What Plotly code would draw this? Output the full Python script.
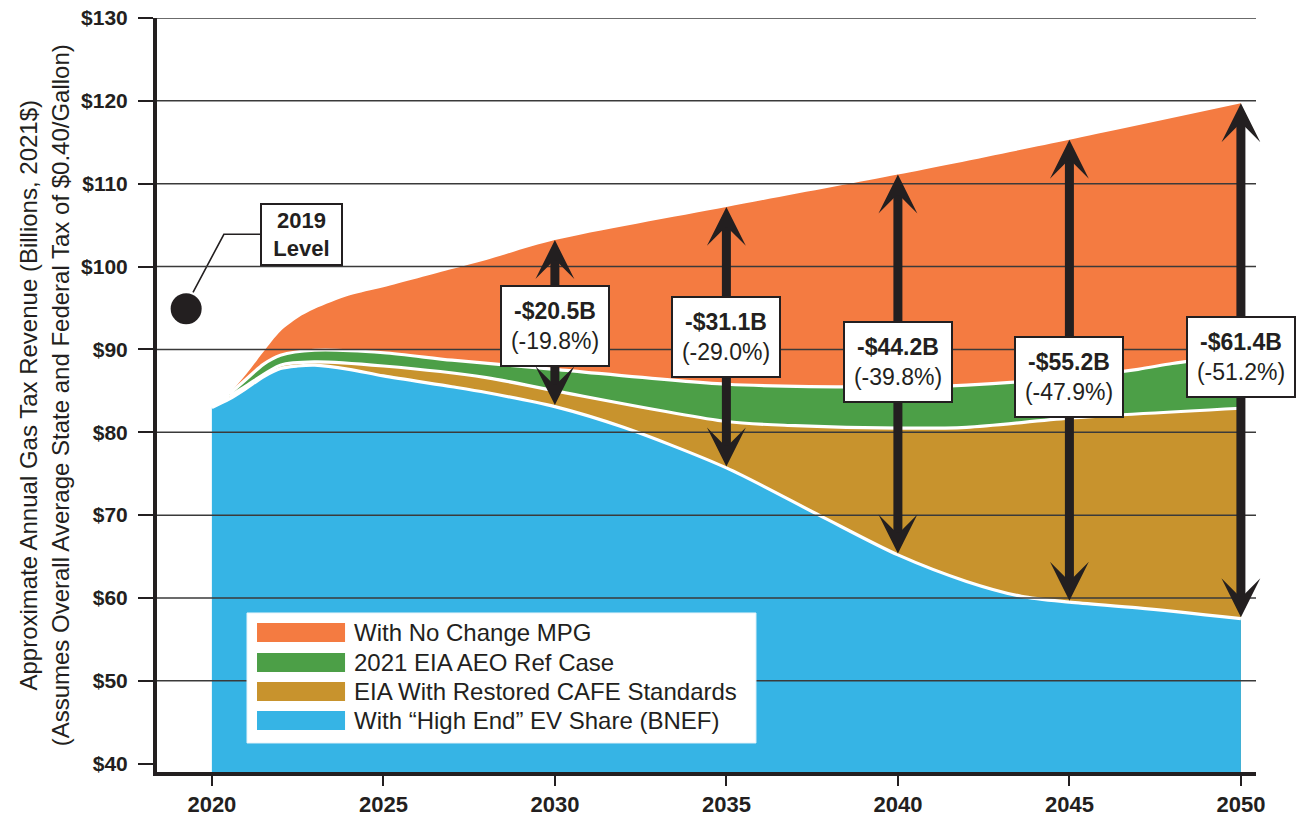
import plotly.graph_objects as go

# ---------------- data ----------------
x_ticks = [2020, 2025, 2030, 2035, 2040, 2045, 2050]
y_ticks = [40, 50, 60, 70, 80, 90, 100, 110, 120, 130]
y_tick_labels = ["$40", "$50", "$60", "$70", "$80", "$90", "$100", "$110", "$120", "$130"]

series_names = [
    "With No Change MPG",
    "2021 EIA AEO Ref Case",
    "EIA With Restored CAFE Standards",
    "With \u201cHigh End\u201d EV Share (BNEF)",
]
series_colors = ["#F47B41", "#4C9F47", "#C8932D", "#36B4E5"]

years_no_change = [2020.5, 2021, 2021.5, 2022, 2022.5, 2023, 2024, 2025, 2027, 2028, 2030, 2035, 2040, 2045, 2050]
rev_no_change = [84.6, 87.0, 89.7, 92.2, 93.8, 94.9, 96.5, 97.5, 99.7, 100.8, 103.2, 107.2, 111.1, 115.3, 119.7]

years_aeo = [2020.5, 2021, 2021.5, 2022, 2023, 2025, 2027, 2030, 2035, 2040, 2042, 2045, 2047, 2048, 2050]
rev_aeo = [84.6, 86.4, 88.2, 89.3, 89.9, 89.6, 88.7, 87.6, 85.8, 85.5, 85.7, 86.6, 87.6, 88.3, 89.4]

years_cafe = [2020.5, 2021, 2022, 2023, 2025, 2028, 2030, 2035, 2037, 2040, 2042, 2045, 2050]
rev_cafe = [84.3, 85.6, 88.1, 88.5, 88.0, 86.6, 85.0, 81.3, 80.8, 80.5, 80.6, 81.7, 82.9]

years_ev = [2020, 2020.5, 2021, 2021.5, 2022, 2022.5, 2023, 2024, 2025, 2027, 2028, 2030, 2032, 2035, 2037.7, 2040, 2042, 2043.6, 2045, 2047, 2050]
rev_ev = [83.0, 84.0, 85.3, 86.7, 87.7, 88.0, 88.1, 87.6, 86.8, 85.5, 84.8, 83.1, 80.6, 75.7, 70.0, 65.2, 62.0, 60.2, 59.5, 58.8, 57.5]

gap_years = [2030, 2035, 2040, 2045, 2050]
gap_labels = ["-$20.5B", "-$31.1B", "-$44.2B", "-$55.2B", "-$61.4B"]
gap_pct_labels = ["(-19.8%)", "(-29.0%)", "(-39.8%)", "(-47.9%)", "(-51.2%)"]

level_2019_year = 2019.25
level_2019_value = 94.9

# ---------------- layout constants ----------------
INK = "#231F20"
GRID = "#3A3A3A"
FONT = "Liberation Sans, Arial, sans-serif"
NARROW = "Liberation Sans Narrow, Arial Narrow, Liberation Sans, Arial, sans-serif"
gap_box_y = [92.8, 91.5, 88.5, 86.7, 89.1]

fig = go.Figure()

series = [
    (years_no_change, rev_no_change),
    (years_aeo, rev_aeo),
    (years_cafe, rev_cafe),
    (years_ev, rev_ev),
]
for i, ((xs, ys), name, col) in enumerate(zip(series, series_names, series_colors)):
    fig.add_trace(go.Scatter(
        x=xs, y=ys, name=name, mode="lines",
        line=dict(color=col if i == 0 else "white", width=0 if i == 0 else 3.2,
                  shape="spline", smoothing=0.8),
        fill="tozeroy", fillcolor=col, hoverinfo="skip",
    ))

# 2019 level marker with leader line
fig.add_trace(go.Scatter(
    x=[level_2019_year], y=[level_2019_value], mode="markers",
    marker=dict(size=31, color=INK), hoverinfo="skip",
))
fig.add_trace(go.Scatter(
    x=[2019.45, 2020.35, 2021.5], y=[96.9, 103.9, 103.9], mode="lines",
    line=dict(color=INK, width=1.6), hoverinfo="skip",
))

shapes = []
# gridlines above the areas
for v in y_ticks[1:]:
    shapes.append(dict(type="line", xref="paper", yref="y", x0=0, x1=1, y0=v, y1=v,
                       line=dict(color=GRID, width=1.5), layer="above"))

# custom legend
shapes.append(dict(type="rect", xref="paper", yref="paper", x0=0.0819, x1=0.5450,
                   y0=0.0385, y1=0.2109, fillcolor="white",
                   line=dict(color="#E6F3FA", width=1), layer="above"))
legend_rows = [0.1850, 0.1452, 0.1068, 0.0683]
annotations = []
for name, col, yc in zip(series_names, series_colors, legend_rows):
    shapes.append(dict(type="rect", xref="paper", yref="paper", x0=0.0910, x1=0.1711,
                       y0=yc - 0.0126, y1=yc + 0.0126, fillcolor=col,
                       line=dict(width=0), layer="above"))
    annotations.append(dict(xref="paper", yref="paper", x=0.1775, y=yc, text=name,
                            xanchor="left", yanchor="middle", showarrow=False,
                            font=dict(family=FONT, size=24, color=INK)))

# double-headed arrows + value boxes
lookup_top = dict(zip(years_no_change, rev_no_change))
lookup_bot = dict(zip(years_ev, rev_ev))
for yr, lab, pct, by in zip(gap_years, gap_labels, gap_pct_labels, gap_box_y):
    annotations.append(dict(
        x=yr, y=lookup_top[yr], ax=yr, ay=lookup_bot[yr],
        xref="x", yref="y", axref="x", ayref="y", text="",
        showarrow=True, arrowhead=3, startarrowhead=3, arrowside="end+start",
        arrowwidth=9, arrowsize=0.72, startarrowsize=0.72, arrowcolor=INK,
        standoff=0, startstandoff=0,
    ))
    annotations.append(dict(
        x=yr, y=by, xref="x", yref="y", showarrow=False,
        text=f"<b>{lab}</b><br>{pct}", align="center",
        font=dict(family=FONT, size=23, color=INK),
        bgcolor="white", bordercolor=INK, borderwidth=2,
        width=104, height=76, xanchor="center", yanchor="middle",
    ))

# 2019 Level box
annotations.append(dict(
    x=2022.62, y=103.9, xref="x", yref="y", showarrow=False,
    text="<b>2019<br>Level</b>", align="center",
    font=dict(family=FONT, size=22, color=INK),
    bgcolor="white", bordercolor=INK, borderwidth=2,
    width=77, height=57, xanchor="center", yanchor="middle",
))

# y-axis title (two lines, rotated)
annotations.append(dict(
    xref="paper", yref="paper", x=-0.1025, y=0.5, textangle=-90,
    text="Approximate Annual Gas Tax Revenue (Billions, 2021$)<br>"
         "(Assumes Overall Average State and Federal Tax of $0.40/Gallon)",
    showarrow=False, xanchor="center", yanchor="middle",
    font=dict(family=FONT, size=24, color=INK),
))

fig.update_layout(
    width=1306, height=817,
    margin=dict(l=157, r=50, t=18, b=45, autoexpand=False),
    paper_bgcolor="white", plot_bgcolor="white",
    showlegend=False,
    shapes=shapes, annotations=annotations,
    xaxis=dict(
        range=[2018.4, 2050.44], tickvals=x_ticks, ticktext=[str(t) for t in x_ticks],
        showgrid=False, zeroline=False, showline=True, linewidth=4, linecolor=INK,
        ticks="outside", ticklen=10, tickwidth=1.5, tickcolor=INK, automargin=False,
        tickfont=dict(family=NARROW, size=22, color=INK, weight="bold"),
        ticklabelstandoff=0, ticklabeloverflow="allow",
    ),
    yaxis=dict(
        range=[39, 130], tickvals=y_ticks, ticktext=y_tick_labels,
        showgrid=False, zeroline=False, showline=True, linewidth=4, linecolor=INK,
        ticks="outside", ticklen=15, tickwidth=1.5, tickcolor=INK, automargin=False,
        tickfont=dict(family=FONT, size=21, color=INK, weight="bold"),
        ticklabelstandoff=6, ticklabeloverflow="allow",
    ),
)

# remove the page's default body margin so the figure fills the window exactly
fig.write_html("out.html", config={"displayModeBar": False},
               post_script="document.body.style.margin='0';")
